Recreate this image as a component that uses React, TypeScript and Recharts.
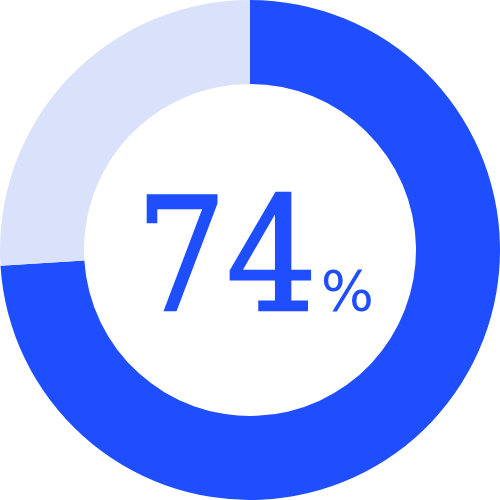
import React from 'react';
import { PieChart, Pie, Cell, Label } from 'recharts';

const segmentNames = ['Done', 'Remaining'];
const segmentValues = [74, 26];
const segmentColors = ['#1f4eff', '#dae2fb'];
const centerValue = '74';
const centerUnit = '%';

const data = segmentNames.map((name, i) => ({ name, value: segmentValues[i] }));

const CenterText = () => (
  <text x={136} y={310} fill="#1f4eff">
    <tspan
      fontFamily="'DejaVu Serif Condensed', 'DejaVu Serif', serif"
      fontStretch="condensed"
      fontSize={158}
      stroke="#1f4eff"
      strokeWidth={2.5}
    >
      {centerValue}
    </tspan>
    <tspan fontFamily="'DejaVu Sans', sans-serif" fontSize={56} dx={4}>{centerUnit}</tspan>
  </text>
);

export default function App() {
  return (
    <div style={{ position: 'absolute', top: 0, left: 0, width: 500, height: 500, background: '#fff' }}>
      <PieChart width={500} height={500} margin={{ top: 0, right: 0, bottom: 0, left: 0 }}>
        <Pie
          data={data}
          dataKey="value"
          cx={250}
          cy={250}
          innerRadius={166}
          outerRadius={250}
          startAngle={90}
          endAngle={-270}
          stroke="none"
          isAnimationActive={false}
        >
          {data.map((d, i) => (
            <Cell key={d.name} fill={segmentColors[i]} />
          ))}
          <Label position="center" content={() => <CenterText />} />
        </Pie>
      </PieChart>
    </div>
  );
}
